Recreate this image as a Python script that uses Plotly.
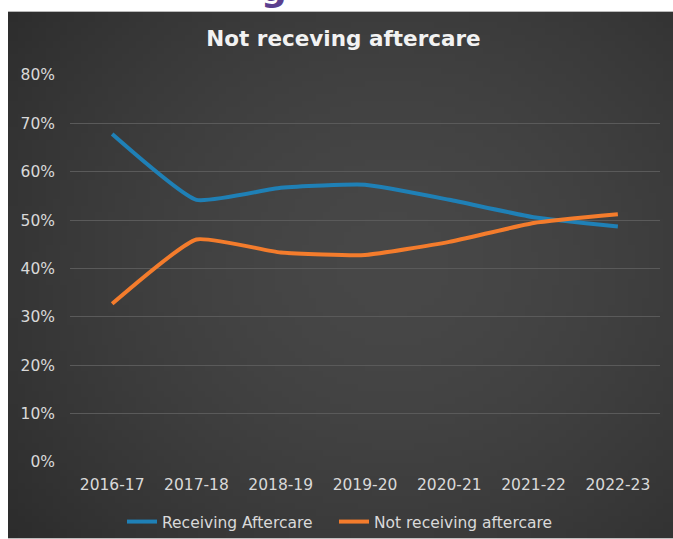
import base64
import struct
import zlib

import numpy as np
import plotly.graph_objects as go

# ---- data -------------------------------------------------------------
years = ["2016-17", "2017-18", "2018-19", "2019-20", "2020-21", "2021-22", "2022-23"]
receiving_pct = [67.8, 54.2, 56.7, 57.3, 54.2, 50.6, 48.7]
not_receiving_pct = [32.7, 46.0, 43.3, 42.8, 45.5, 49.4, 51.2]
y_tick_values = [0.0, 0.1, 0.2, 0.3, 0.4, 0.5, 0.6, 0.7, 0.8]

series_names = ["Receiving Aftercare", "Not receiving aftercare"]
chart_title = "Not receving aftercare"

# ---- geometry (pixels) -------------------------------------------------
W, H = 673, 539
PLOT_L, PLOT_R = 70, 660
PLOT_T, PLOT_B = 74.5, 462.5
CARD_L, CARD_T = 8, 11


def px_to_paper_x(px):
    return (px - PLOT_L) / (PLOT_R - PLOT_L)


def px_to_paper_y(py):
    return (PLOT_B - py) / (PLOT_B - PLOT_T)


def gradient_png(w=96, h=80):
    """Dark radial gradient used as the card background."""
    u = np.linspace(0, 1, w)[None, :]
    v = np.linspace(0, 1, h)[:, None]
    d = np.sqrt(((u - 0.58) / 0.75) ** 2 + ((v - 0.48) / 0.85) ** 2)
    val = 72 - 28 * np.clip(d, 0, 1) ** 1.6
    img = np.clip(val, 0, 255).astype(np.uint8)
    rgb = np.stack([img, img, img], axis=-1)
    raw = b"".join(b"\x00" + rgb[r].tobytes() for r in range(h))

    def chunk(tag, data):
        c = struct.pack(">I", len(data)) + tag + data
        return c + struct.pack(">I", zlib.crc32(tag + data) & 0xFFFFFFFF)

    png = b"\x89PNG\r\n\x1a\n"
    png += chunk(b"IHDR", struct.pack(">IIBBBBB", w, h, 8, 2, 0, 0, 0))
    png += chunk(b"IDAT", zlib.compress(raw, 9))
    png += chunk(b"IEND", b"")
    return "data:image/png;base64," + base64.b64encode(png).decode()


BLUE = "#1f80b6"
ORANGE = "#f47c2c"
TEXT = "#d9d9d9"
FONT = "DejaVu Sans"

fig = go.Figure()
fig.add_trace(go.Scatter(
    x=years, y=[v / 100 for v in receiving_pct], name=series_names[0],
    mode="lines", line=dict(color=BLUE, width=4, shape="spline", smoothing=0.45),
    legend="legend",
))
fig.add_trace(go.Scatter(
    x=years, y=[v / 100 for v in not_receiving_pct], name=series_names[1],
    mode="lines", line=dict(color=ORANGE, width=4, shape="spline", smoothing=0.45),
    legend="legend2",
))


def legend_box(left_px):
    return dict(
        orientation="h", x=left_px / W, xanchor="left", xref="container",
        y=1 - 522 / H, yanchor="middle", yref="container",
        font=dict(family=FONT, color=TEXT, size=15.5),
        bgcolor="rgba(0,0,0,0)", itemwidth=30,
    )


fig.update_layout(
    width=W, height=H,
    margin=dict(l=PLOT_L, r=W - PLOT_R, t=PLOT_T, b=H - PLOT_B, pad=0,
                autoexpand=False),
    paper_bgcolor="white",
    plot_bgcolor="rgba(0,0,0,0)",
    font=dict(family=FONT, color=TEXT, size=15.5),
    showlegend=True,
    legend=legend_box(122),
    legend2=legend_box(334),
    title=dict(
        text=chart_title, x=343.5 / W, xanchor="center",
        y=1 - 38 / H, yanchor="middle",
        font=dict(family=FONT, size=21.5, color="#f2f2f2", weight="bold"),
    ),
    xaxis=dict(
        type="category", range=[-0.5, len(years) - 0.5],
        showgrid=False, zeroline=False, showline=False, ticks="",
        tickfont=dict(family=FONT, color=TEXT, size=15.5),
        ticklabelstandoff=11, automargin=False,
    ),
    yaxis=dict(
        range=[0, 0.8], tickvals=y_tick_values, tickformat=".0%",
        showgrid=True, gridcolor="#5a5a5a", gridwidth=1,
        zeroline=False, showline=False, ticks="",
        tickfont=dict(family=FONT, color=TEXT, size=15.5),
        ticklabelstandoff=14, automargin=False,
    ),
    images=[dict(
        source=gradient_png(), xref="paper", yref="paper",
        x=px_to_paper_x(CARD_L), y=px_to_paper_y(CARD_T),
        sizex=(W - CARD_L) / (PLOT_R - PLOT_L),
        sizey=(H - CARD_T) / (PLOT_B - PLOT_T),
        xanchor="left", yanchor="top", sizing="stretch", layer="below",
    )],
    annotations=[dict(
        text="g", xref="paper", yref="paper",
        x=px_to_paper_x(274), y=px_to_paper_y(10),
        xanchor="center", yanchor="bottom", showarrow=False,
        font=dict(family=FONT, size=36, color="#5b3f8f", weight="bold"),
    )],
)

fig.write_html("out.html")
